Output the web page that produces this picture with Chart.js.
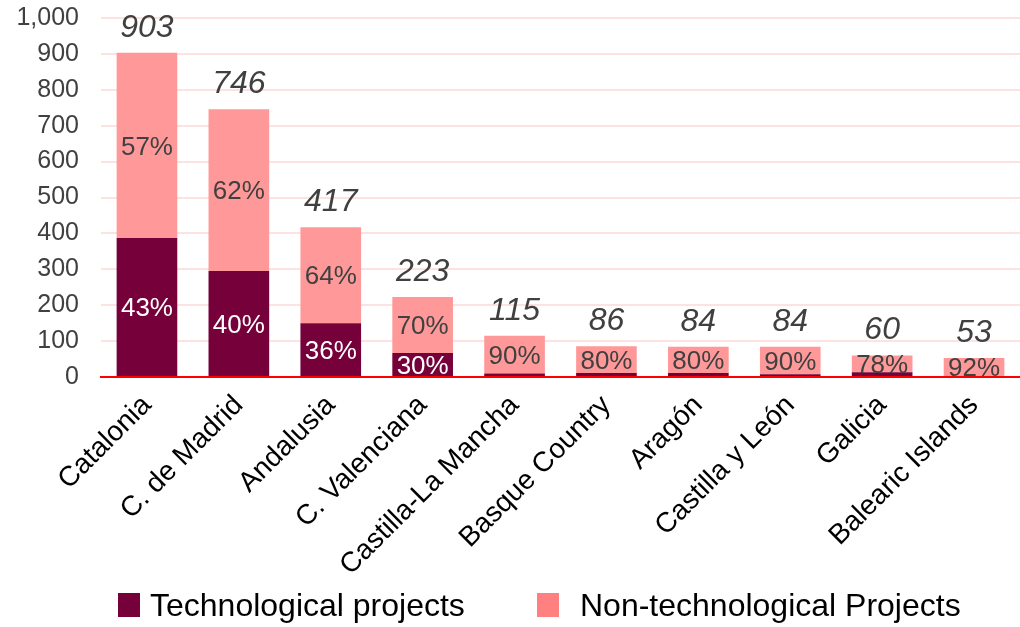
<!DOCTYPE html>
<html>
<head>
<meta charset="utf-8">
<script src="https://cdn.jsdelivr.net/npm/chart.js@4/dist/chart.umd.min.js"></script>
<style>
  html, body { margin: 0; padding: 0; background: #fff; }
  #wrap { width: 1020px; height: 627px; }
</style>
</head>
<body>
<div id="wrap"><canvas id="regions"></canvas></div>
<script>
const regions = ['Catalonia', 'C. de Madrid', 'Andalusia', 'C. Valenciana', 'Castilla-La Mancha',
    'Basque Country', 'Aragón', 'Castilla y León', 'Galicia', 'Balearic Islands'];
const totals = [903, 746, 417, 223, 115, 86, 84, 84, 60, 53];
const techProjects = [387, 295, 150, 67, 10, 11, 11, 8, 13, 3];
const nonTechProjects = [516, 451, 267, 156, 105, 75, 73, 76, 47, 50];
const techPct = ['43%', '40%', '36%', '30%', null, null, null, null, null, null];
const nonTechPct = ['57%', '62%', '64%', '70%', '90%', '80%', '80%', '90%', '78%', '92%'];

const TECH = '#75003a';
const NONTECH = '#ff9999';
const TEXT = '#404040';
const FONT = '"Liberation Sans", Arial, sans-serif';

// etiquetas de porcentaje y totales
const labelsPlugin = {
    id: 'barLabels',
    afterDatasetsDraw(chart) {
        const ctx = chart.ctx;
        const techMeta = chart.getDatasetMeta(0);
        const nonMeta = chart.getDatasetMeta(1);
        ctx.save();
        ctx.textAlign = 'center';
        ctx.textBaseline = 'middle';
        ctx.font = '26px ' + FONT;
        techMeta.data.forEach((bar, i) => {
            if (!techPct[i]) return;
            ctx.fillStyle = '#ffffff';
            ctx.fillText(techPct[i], bar.x, (bar.y + bar.base) / 2 + 2);
        });
        nonMeta.data.forEach((bar, i) => {
            ctx.fillStyle = TEXT;
            ctx.fillText(nonTechPct[i], bar.x, (bar.y + bar.base) / 2 + 2);
        });
        ctx.font = 'italic 32px ' + FONT;
        nonMeta.data.forEach((bar, i) => {
            ctx.fillStyle = TEXT;
            ctx.fillText(totals[i].toLocaleString('en-US'), bar.x, bar.y - 25);
        });
        ctx.restore();
    }
};

// leyenda abajo, con separaciones como en la imagen
const legendPlugin = {
    id: 'bottomLegend',
    afterDraw(chart) {
        const ctx = chart.ctx;
        const items = [
            { box: 118, text: 150, color: TECH },
            { box: 537, text: 580, color: '#ff8080' }
        ];
        ctx.save();
        ctx.font = '32px ' + FONT;
        ctx.textBaseline = 'middle';
        ctx.textAlign = 'left';
        items.forEach((it, i) => {
            ctx.fillStyle = it.color;
            ctx.fillRect(it.box, 593, 22, 24);
            ctx.fillStyle = '#000000';
            ctx.fillText(chart.data.datasets[i].label, it.text, 607);
        });
        ctx.restore();
    }
};

new Chart(document.getElementById('regions'), {
    type: 'bar',
    data: {
        labels: regions,
        datasets: [{
            label: 'Technological projects',
            data: techProjects,
            backgroundColor: TECH,
            categoryPercentage: 1,
            barPercentage: 0.66
        }, {
            label: 'Non-technological Projects',
            data: nonTechProjects,
            backgroundColor: NONTECH,
            categoryPercentage: 1,
            barPercentage: 0.66
        }]
    },
    options: {
        responsive: true,
        maintainAspectRatio: false,
        animation: false,
        layout: { padding: { top: 18, right: 0, left: 0, bottom: 50 } },
        scales: {
            x: {
                stacked: true,
                grid: { display: false, drawTicks: false },
                border: { color: '#ff0000', width: 2 },
                ticks: {
                    color: '#000000',
                    font: { size: 28, family: FONT },
                    minRotation: 45,
                    maxRotation: 45,
                    padding: 12
                },
                afterFit(scale) {
                    scale.height = 200;
                    scale.paddingLeft = 0;
                    scale.paddingRight = 0;
                }
            },
            y: {
                stacked: true,
                min: 0,
                max: 1000,
                grid: { color: '#fde2e2', lineWidth: 2, drawTicks: false },
                border: { display: false },
                ticks: {
                    stepSize: 100,
                    color: TEXT,
                    padding: 22,
                    font: { size: 25, family: FONT }
                },
                afterFit(scale) {
                    scale.width = 101;
                    scale.paddingTop = 0;
                    scale.paddingBottom = 0;
                }
            }
        },
        plugins: {
            legend: { display: false },
            tooltip: { enabled: false }
        }
    },
    plugins: [labelsPlugin, legendPlugin]
});
</script>
</body>
</html>
